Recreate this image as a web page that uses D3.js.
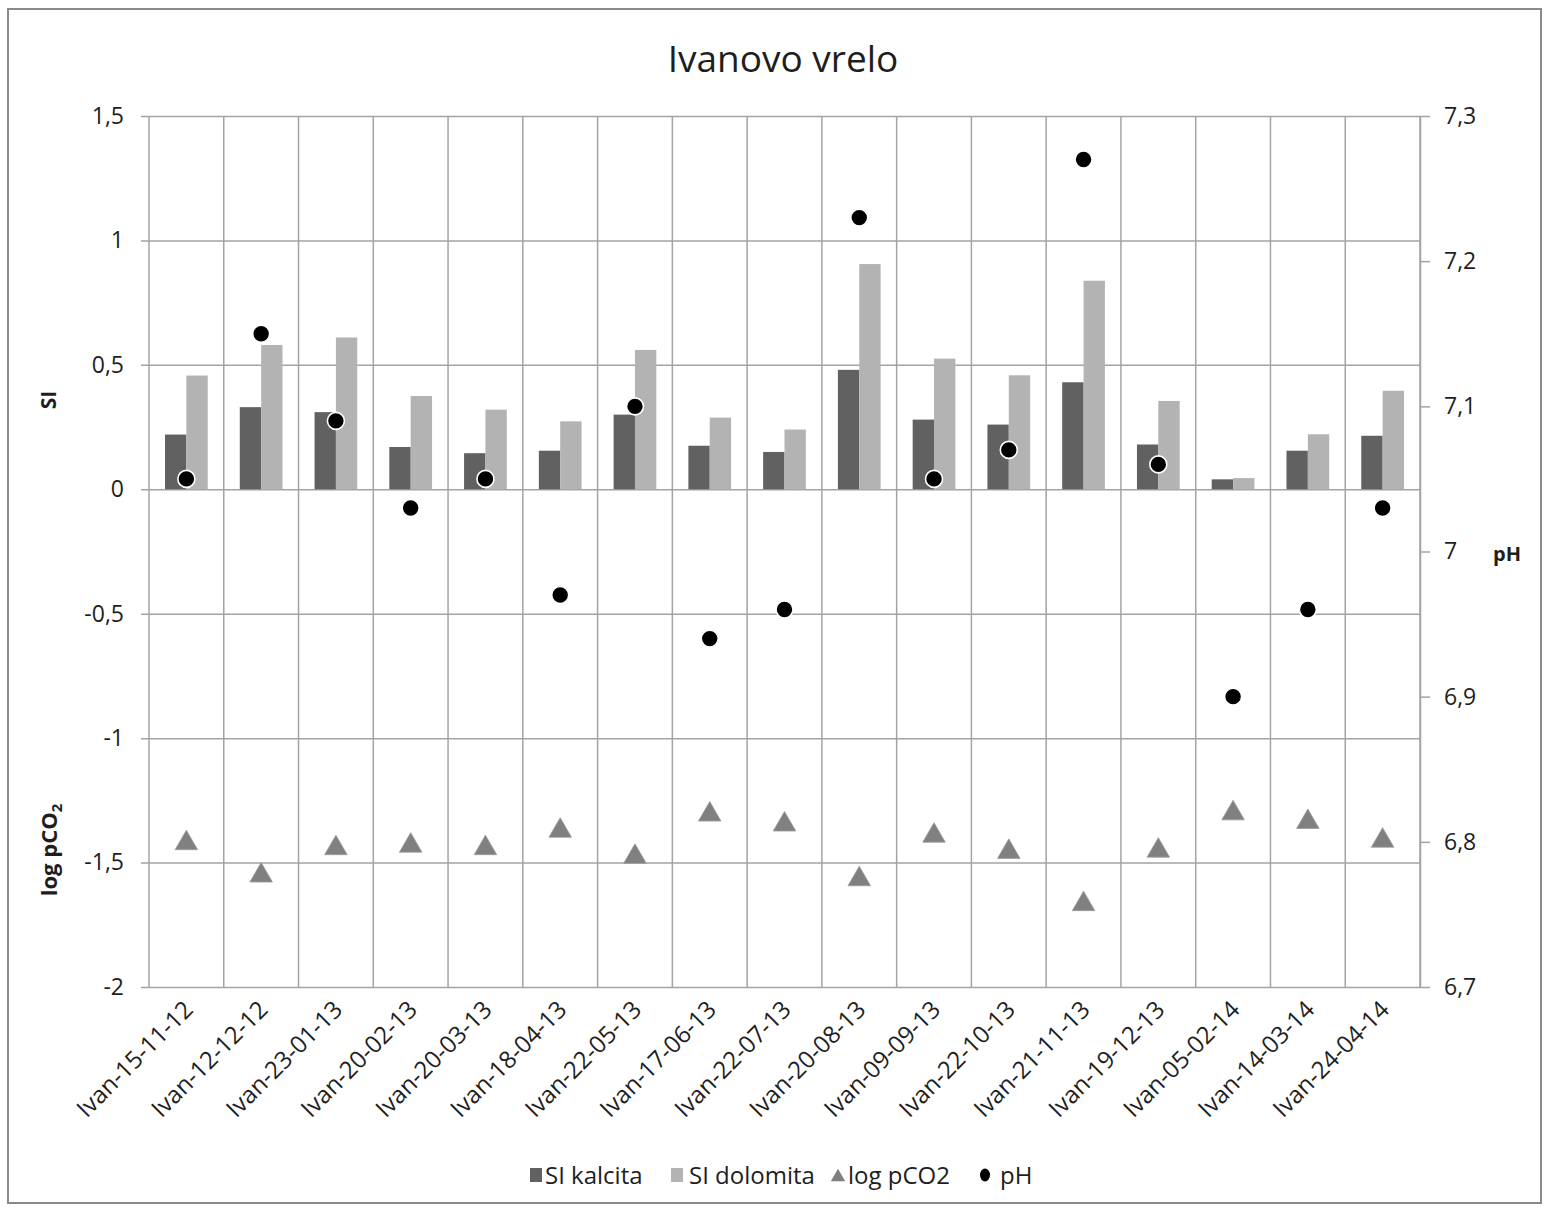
<!DOCTYPE html>
<html>
<head>
<meta charset="utf-8">
<script src="https://cdn.jsdelivr.net/npm/d3@7"></script>
<style>
  html, body { margin: 0; padding: 0; background: #fff; }
  svg { display: block; font-family: "Open Sans", sans-serif; }
</style>
</head>
<body>
<svg id="chart" width="1549" height="1211"></svg>
<script>
const categories = ["Ivan-15-11-12","Ivan-12-12-12","Ivan-23-01-13","Ivan-20-02-13","Ivan-20-03-13","Ivan-18-04-13","Ivan-22-05-13","Ivan-17-06-13","Ivan-22-07-13","Ivan-20-08-13","Ivan-09-09-13","Ivan-22-10-13","Ivan-21-11-13","Ivan-19-12-13","Ivan-05-02-14","Ivan-14-03-14","Ivan-24-04-14"];
const siKalcita = [0.22, 0.33, 0.31, 0.17, 0.145, 0.155, 0.30, 0.175, 0.15, 0.48, 0.28, 0.26, 0.43, 0.18, 0.04, 0.155, 0.215];
const siDolomita = [0.457, 0.58, 0.61, 0.375, 0.32, 0.273, 0.56, 0.288, 0.24, 0.905, 0.525, 0.458, 0.838, 0.355, 0.045, 0.221, 0.396];
const logPCO2 = [-1.41, -1.54, -1.43, -1.42, -1.43, -1.36, -1.465, -1.295, -1.335, -1.555, -1.38, -1.445, -1.655, -1.44, -1.29, -1.325, -1.40];
const pH = [7.05, 7.15, 7.09, 7.03, 7.05, 6.97, 7.10, 6.94, 6.96, 7.23, 7.05, 7.07, 7.27, 7.06, 6.90, 6.96, 7.03];
const leftTicks = [-2, -1.5, -1, -0.5, 0, 0.5, 1, 1.5];
const rightTicks = [6.7, 6.8, 6.9, 7.0, 7.1, 7.2, 7.3];
const seriesNames = ["SI kalcita", "SI dolomita", "log pCO2", "pH"];
const title = "Ivanovo vrelo";

const colDark = "#616161", colLight = "#b3b3b3", colTri = "#808080", colGrid = "#a3a3a3", colText = "#1e1e1e";

const svg = d3.select("#chart");
const plot = { left: 149, right: 1420, top: 116, bottom: 987 };

const fmt = d => String(+d.toFixed(2)).replace(".", ",");

// outer border
svg.append("rect").attr("x", 8).attr("y", 9).attr("width", 1533).attr("height", 1194)
  .attr("fill", "#fff").attr("stroke", "#8a8a8a").attr("stroke-width", 2);

// title
svg.append("text").attr("x", 783).attr("y", 72).attr("text-anchor", "middle")
  .attr("font-size", 37).attr("fill", colText).text(title);

const x = d3.scaleBand().domain(categories).range([plot.left, plot.right]).padding(0);
const yL = d3.scaleLinear().domain([-2, 1.5]).range([plot.bottom, plot.top]);
const yR = d3.scaleLinear().domain([6.7, 7.3]).range([plot.bottom, plot.top]);

// horizontal gridlines + left axis
const gL = svg.append("g").attr("transform", `translate(${plot.left},0)`)
  .call(d3.axisLeft(yL).tickValues(leftTicks).tickFormat(fmt).tickSizeInner(-(plot.right - plot.left)).tickSizeOuter(0).tickPadding(0));
gL.select(".domain").remove();
gL.selectAll(".tick line").attr("stroke", colGrid).attr("stroke-width", 1.5).attr("x1", -8);
gL.selectAll(".tick text").attr("x", -25).attr("font-size", 23).attr("fill", colText)
  .attr("font-family", "Open Sans, sans-serif");

// vertical category gridlines
const bounds = categories.map(c => x(c)).concat([plot.right]);
svg.append("g").selectAll("line").data(bounds).join("line")
  .attr("x1", d => d).attr("x2", d => d).attr("y1", plot.top).attr("y2", plot.bottom)
  .attr("stroke", colGrid).attr("stroke-width", 1.5);

// right axis
const gR = svg.append("g").attr("transform", `translate(${plot.right},0)`)
  .call(d3.axisRight(yR).tickValues(rightTicks).tickFormat(fmt).tickSizeInner(10).tickSizeOuter(0).tickPadding(14));
gR.select(".domain").attr("stroke", colGrid).attr("stroke-width", 1.5);
gR.selectAll(".tick line").attr("stroke", colGrid).attr("stroke-width", 1.5);
gR.selectAll(".tick text").attr("font-size", 23).attr("fill", colText)
  .attr("font-family", "Open Sans, sans-serif");

// bars
const bw = x.bandwidth() / 3.5;
const bars = svg.append("g");
bars.selectAll("rect.k").data(siKalcita).join("rect").attr("class", "k")
  .attr("x", (d, i) => x(categories[i]) + 0.75 * bw)
  .attr("y", d => Math.min(yL(d), yL(0))).attr("width", bw)
  .attr("height", d => Math.abs(yL(0) - yL(d))).attr("fill", colDark);
bars.selectAll("rect.d").data(siDolomita).join("rect").attr("class", "d")
  .attr("x", (d, i) => x(categories[i]) + 1.75 * bw)
  .attr("y", d => Math.min(yL(d), yL(0))).attr("width", bw)
  .attr("height", d => Math.abs(yL(0) - yL(d))).attr("fill", colLight);

// triangles (log pCO2)
const tri = d3.symbol().type(d3.symbolTriangle).size(220);
svg.append("g").selectAll("path").data(logPCO2).join("path")
  .attr("transform", (d, i) => `translate(${x(categories[i]) + x.bandwidth() / 2},${yL(d) + 3})`)
  .attr("d", tri).attr("fill", colTri).attr("stroke", "#9a9a9a").attr("stroke-width", 0.8);

// circles (pH)
svg.append("g").selectAll("circle").data(pH).join("circle")
  .attr("cx", (d, i) => x(categories[i]) + x.bandwidth() / 2)
  .attr("cy", d => yR(d)).attr("r", 8.5)
  .attr("fill", "#000").attr("stroke", "#fff").attr("stroke-width", 1.6);

// category labels
svg.append("g").selectAll("text").data(categories).join("text")
  .attr("transform", d => `translate(${x(d) + x.bandwidth() / 2 + 8},${plot.bottom + 24}) rotate(-45)`)
  .attr("text-anchor", "end").attr("font-size", 24).attr("fill", colText)
  .text(d => d);

// axis titles
svg.append("text").attr("transform", "translate(56,400) rotate(-90)").attr("text-anchor", "middle")
  .attr("font-size", 21).attr("font-weight", "bold").attr("fill", colText).text("SI");
const lp = svg.append("text").attr("transform", "translate(57,850) rotate(-90)").attr("text-anchor", "middle")
  .attr("font-size", 22).attr("font-weight", "bold").attr("fill", colText);
lp.append("tspan").text("log pCO");
lp.append("tspan").attr("font-size", 15).attr("dy", 5).text("2");
svg.append("text").attr("x", 1493).attr("y", 561)
  .attr("font-size", 20).attr("font-weight", "bold").attr("fill", colText).text("pH");

// legend
const legendX = [530, 671, 831, 980];
const leg = svg.append("g").attr("transform", "translate(0,1184)");
seriesNames.forEach((name, i) => {
  const lx = legendX[i];
  let tx;
  if (i === 0 || i === 1) {
    leg.append("rect").attr("x", lx).attr("y", -16).attr("width", 12).attr("height", 14)
      .attr("fill", i === 0 ? colDark : colLight);
    tx = lx + (i === 0 ? 15 : 18);
  } else if (i === 2) {
    leg.append("path").attr("transform", `translate(${lx + 7},-7)`)
      .attr("d", d3.symbol().type(d3.symbolTriangle).size(90)).attr("fill", colTri);
    tx = lx + 17;
  } else {
    leg.append("ellipse").attr("cx", lx + 5).attr("cy", -9).attr("rx", 5).attr("ry", 6.5).attr("fill", "#000");
    tx = lx + 20;
  }
  leg.append("text").attr("x", tx).attr("y", 0).attr("font-size", 24).attr("fill", colText).text(name);
});
</script>
</body>
</html>
